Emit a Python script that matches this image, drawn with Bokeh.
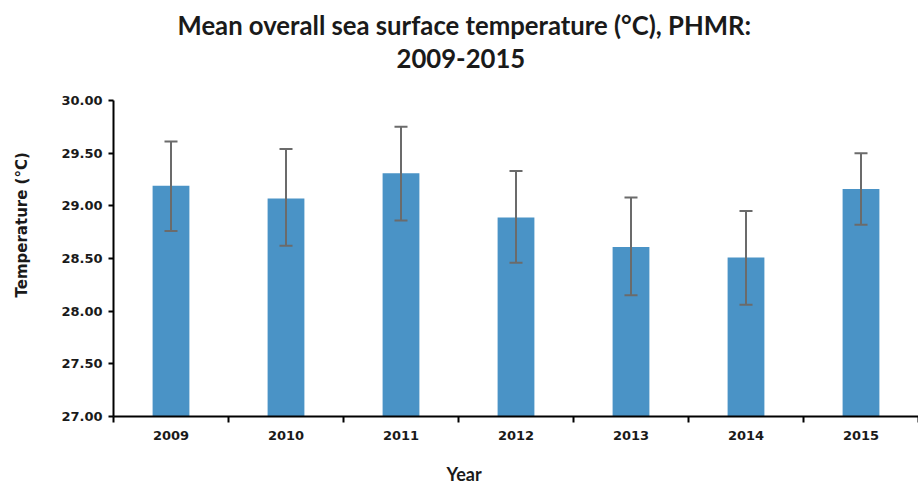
from bokeh.plotting import figure
from bokeh.models import (ColumnDataSource, Whisker, TeeHead, FixedTicker,
                          NumeralTickFormatter, Range1d, Title)
from bokeh.embed import file_html
from bokeh.resources import INLINE

years = ["2009", "2010", "2011", "2012", "2013", "2014", "2015"]
means = [29.19, 29.07, 29.31, 28.89, 28.61, 28.51, 29.16]
err_upper = [29.61, 29.54, 29.75, 29.33, 29.08, 28.95, 29.50]
err_lower = [28.76, 28.62, 28.86, 28.46, 28.15, 28.06, 28.82]
y_ticks = [27.0, 27.5, 28.0, 28.5, 29.0, 29.5, 30.0]

xs = list(range(1, len(years) + 1))
src = ColumnDataSource(dict(x=xs, top=means, upper=err_upper, lower=err_lower))

TITLE_FONT = "Lato"
TICK_FONT = "DejaVu Sans"
TXT = "#1a1a1a"
ERR = "#6b6b6b"

p = figure(width=918, height=484, output_backend="svg", toolbar_location=None,
           x_range=Range1d(0.5, 7.5), y_range=Range1d(27.0, 30.0),
           min_border_left=113, min_border_right=0, min_border_top=99,
           min_border_bottom=68)
p.title = None
p.outline_line_color = None
p.xgrid.grid_line_color = None
p.ygrid.grid_line_color = None

p.vbar(x="x", top="top", bottom=27.0, width=0.32, source=src,
       fill_color="#4a93c6", line_color=None)

w = Whisker(base="x", upper="upper", lower="lower", source=src,
            line_color=ERR, line_width=2, level="annotation",
            upper_head=TeeHead(size=13, line_color=ERR, line_width=2),
            lower_head=TeeHead(size=13, line_color=ERR, line_width=2))
p.add_layout(w)

# x axis
xa = p.xaxis[0]
boundaries = [x - 0.5 for x in xs] + [xs[-1] + 0.5]
xa.ticker = FixedTicker(ticks=xs, minor_ticks=boundaries)
xa.major_label_overrides = {x: y for x, y in zip(xs, years)}
xa.major_tick_line_color = None
xa.major_tick_out = 0
xa.major_tick_in = 0
xa.minor_tick_out = 6
xa.minor_tick_in = 0
xa.minor_tick_line_color = "black"
xa.minor_tick_line_width = 2
xa.axis_line_width = 2
xa.axis_line_color = "black"
xa.major_label_standoff = 8
xa.major_label_text_font = TICK_FONT
xa.major_label_text_font_style = "bold"
xa.major_label_text_font_size = "13px"
xa.major_label_text_color = TXT

# y axis
ya = p.yaxis[0]
ya.ticker = FixedTicker(ticks=y_ticks, minor_ticks=[])
ya.formatter = NumeralTickFormatter(format="0.00")
ya.major_tick_out = 5
ya.major_tick_in = 0
ya.major_tick_line_width = 2
ya.axis_line_width = 2
ya.axis_line_color = "black"
ya.major_label_standoff = 6
ya.major_label_text_font = TICK_FONT
ya.major_label_text_font_style = "bold"
ya.major_label_text_font_size = "13px"
ya.major_label_text_color = TXT


def spacer(side, gap):
    p.add_layout(Title(text="\u00a0", text_font_size="1px", standoff=gap,
                       text_color="white"), side)


def title(side, txt, offset, size, font, standoff=0):
    p.add_layout(Title(text=txt, align="left", offset=offset, standoff=standoff,
                       text_font=font, text_font_style="bold",
                       text_font_size=size, text_color=TXT), side)


# above: nearest the frame first
spacer("above", 30)
title("above", "2009-2015", 283, "25.7px", TITLE_FONT)
title("above", "Mean overall sea surface temperature (°C), PHMR:", 64, "25.7px",
      TITLE_FONT, standoff=14)

# below: after the axis
spacer("below", 15)
title("below", "Year", 333, "18px", TITLE_FONT)

# left: after the axis
spacer("left", 25)
title("left", "Temperature (°C)", 119, "15px", TICK_FONT)

open("out.html", "w").write(file_html(p, INLINE))
